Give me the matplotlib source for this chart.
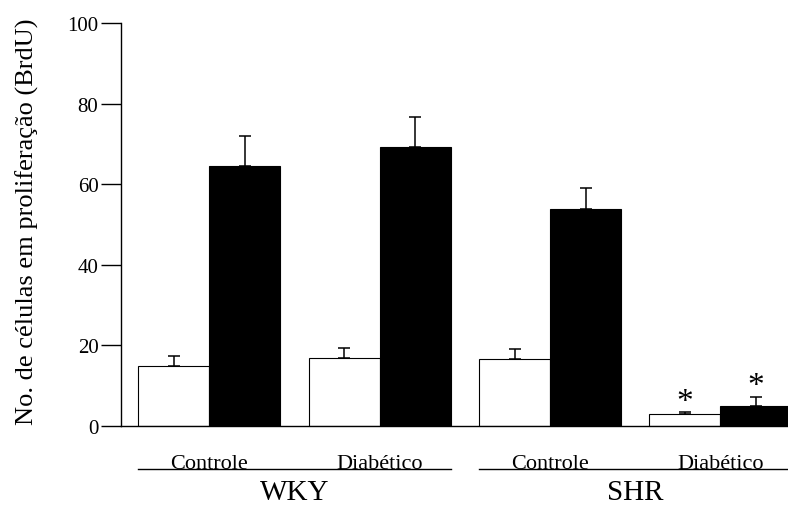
import numpy as np
import matplotlib.pyplot as plt
import matplotlib.transforms as mtransforms

# DATA ----------------------------------------------------------------------------------------------------------------
strains = ['WKY', 'SHR']
conditions = ['Controle', 'Diabético', 'Controle', 'Diabético']
white_vals = [14.9, 16.8, 16.6, 2.8]
white_err = [2.3, 2.4, 2.4, 0.5]
black_vals = [64.6, 69.3, 53.8, 4.9]
black_err = [7.4, 7.4, 5.2, 2.3]
significant = [False, False, False, True]

# FIGURE --------------------------------------------------------------------------------------------------------------
plt.rcParams['font.family'] = ['Liberation Serif', 'DejaVu Serif']

fig = plt.figure(figsize=(7.88, 5.06), dpi=100)
ax = fig.add_axes([0.1532, 0.1567, 0.8468, 0.7959])

x = np.arange(len(conditions))
bar_w = 0.417
err_kw = dict(ecolor='black', elinewidth=1.1, capsize=4.5, capthick=1.1)

ax.bar(x - bar_w / 2, white_vals, bar_w, color='white', edgecolor='black', linewidth=0.8,
       yerr=[np.zeros(len(x)), white_err], error_kw=err_kw, zorder=2)
ax.bar(x + bar_w / 2, black_vals, bar_w, color='black', edgecolor='black', linewidth=0.8,
       yerr=[np.zeros(len(x)), black_err], error_kw=err_kw, zorder=2)

# asterisks over the SHR diabetic bars
for i, sig in enumerate(significant):
    if not sig:
        continue
    for xp, top in [(x[i] - bar_w / 2, white_vals[i] + white_err[i]),
                    (x[i] + bar_w / 2, black_vals[i] + black_err[i])]:
        ax.annotate('*', (xp, top), xytext=(0, 8), textcoords='offset points',
                    ha='center', va='center', fontsize=24)

# axes
ax.set_xlim(-0.521, 3.397)
ax.set_ylim(0, 100)
ax.set_yticks([0, 20, 40, 60, 80, 100])
ax.set_xticks([])
ax.spines['top'].set_visible(False)
ax.spines['right'].set_visible(False)
ax.spines['left'].set_linewidth(1.0)
ax.spines['bottom'].set_linewidth(1.0)
ax.tick_params(axis='y', direction='out', length=14.5, width=1.0, pad=1.5, labelsize=15)
ax.set_ylabel('No. de células em proliferação (BrdU)', fontsize=19)
ax.yaxis.set_label_coords(-0.122, 0.508)

# condition labels and strain group lines below the axis
trans = mtransforms.blended_transform_factory(ax.transData, ax.transAxes)
for i, cond in enumerate(conditions):
    ax.text(x[i], -0.104, cond, transform=trans, ha='center', va='baseline', fontsize=16)

for g, strain in enumerate(strains):
    left = x[2 * g] - bar_w
    right = x[2 * g + 1] + bar_w
    ax.plot([left, right], [-0.108, -0.108], color='black', linewidth=1.0,
            transform=trans, clip_on=False)
    ax.text((left + right) / 2, -0.181, strain, transform=trans, ha='center', va='baseline',
            fontsize=21)

fig.savefig('out.png', dpi=100)
